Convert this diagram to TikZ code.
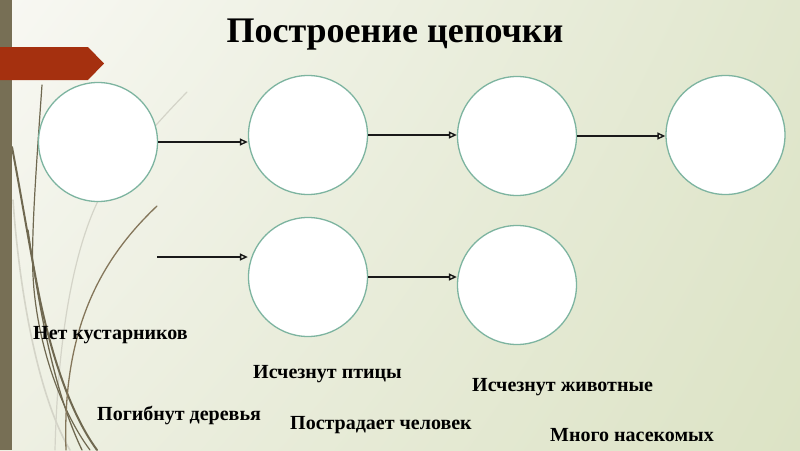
\documentclass[tikz,border=0pt]{standalone}
\usepackage{fontspec}
\setmainfont{Liberation Serif}
\usetikzlibrary{arrows.meta,shadings}
\definecolor{stripe}{HTML}{776F55}
\definecolor{banner}{HTML}{A5300F}
\definecolor{ring}{HTML}{7DB4A0}
\definecolor{olive}{HTML}{6F6850}
\definecolor{brownl}{HTML}{84765A}
\definecolor{lightg}{HTML}{D4D4C8}
\definecolor{bgUL}{HTML}{F8F8F3}
\definecolor{bgUR}{HTML}{E1E7CE}
\definecolor{bgLL}{HTML}{EEF0E3}
\definecolor{bgLR}{HTML}{DCE3C5}
\tikzset{
  ringnode/.style={circle, draw=ring, line width=1.3pt, fill=white, minimum size=119pt, inner sep=0pt},
  link/.style={draw=black!90, line width=2pt, -{Triangle[open, length=8pt, width=7pt, line width=1.4pt]}},
  lbl/.style={font=\fontsize{20}{22}\selectfont\bfseries, anchor=base west, inner sep=0pt},
  titletext/.style={font=\fontsize{36}{40}\selectfont\bfseries, anchor=base, inner sep=0pt},
  deco/.style={line width=#1, line cap=round}
}
\begin{document}
\begin{tikzpicture}[x=1pt,y=-1pt]
\useasboundingbox (0,0) rectangle (800,450);
% background
\shade[upper left=bgUL, upper right=bgUR, lower left=bgLL, lower right=bgLR] (0,0) rectangle (800,450);
% decorative curves
\draw[deco=1.6pt, lightg] (13,200) .. controls (20,300) and (40,400) .. (70,450);
\draw[deco=1.2pt, lightg] (187,92) .. controls (140,140) and (110,180) .. (97,203) .. controls (75,250) and (58,330) .. (55,450);
\draw[deco=1.2pt, olive] (42,85) .. controls (36,170) and (31,240) .. (33,275) .. controls (36,340) and (60,410) .. (90,450);
\draw[deco=2pt, olive] (12,147) .. controls (22,200) and (30,250) .. (40,300) .. controls (55,370) and (75,420) .. (97,450);
\draw[deco=1.3pt, olive] (28,230) .. controls (42,330) and (58,400) .. (82,450);
\draw[deco=1.3pt, brownl] (157,206) .. controls (100,260) and (62,330) .. (66,450);
% left stripe
\fill[stripe] (0,0) rectangle (12,450);
% banner
\fill[banner] (0,47) -- (88,47) -- (104,63.5) -- (88,80) -- (0,80) -- cycle;
% title
\node[titletext] (title) at (395,42) {Построение цепочки};
% circles
\node[ringnode] (c1) at (98,142) {};
\node[ringnode] (c2) at (308,135) {};
\node[ringnode] (c3) at (517,136) {};
\node[ringnode] (c4) at (725.5,135) {};
\node[ringnode] (c5) at (308,277) {};
\node[ringnode] (c6) at (517,285) {};
\coordinate (s) at (157,257);
% arrows
\draw[link] (c1.east) -- (c2.west |- c1.east);
\draw[link] (c2.east) -- (c3.west |- c2.east);
\draw[link] (c3.east) -- (c4.west |- c3.east);
\draw[link] (s) -- (c5.west |- s);
\draw[link] (c5.east) -- (c6.west |- c5.east);
% labels
\node[lbl] (l1) at (33,339) {Нет кустарников};
\node[lbl] (l2) at (97,420) {Погибнут деревья};
\node[lbl] (l3) at (253,378) {Исчезнут птицы};
\node[lbl] (l4) at (472,391) {Исчезнут животные};
\node[lbl] (l5) at (290,429) {Пострадает человек};
\node[lbl] (l6) at (550,441.5) {Много насекомых};
\end{tikzpicture}
\end{document}
